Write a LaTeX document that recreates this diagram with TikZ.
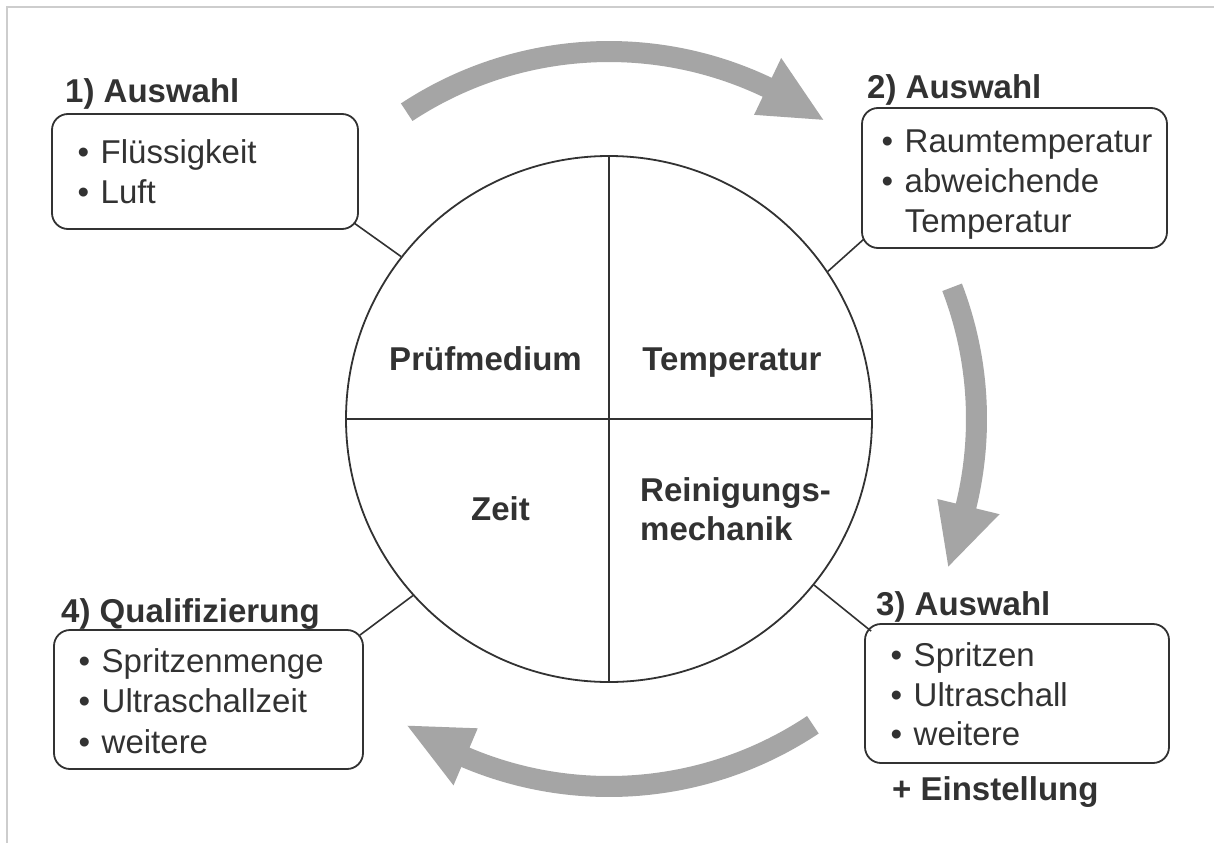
\documentclass[tikz,border=0pt]{standalone}
\usepackage{fontspec}
\setmainfont{Liberation Sans}
\usetikzlibrary{calc}
\definecolor{ink}{RGB}{50,50,50}
\definecolor{arrowgray}{RGB}{165,165,165}
\definecolor{framegray}{RGB}{205,205,205}
\newcommand{\bul}{•\hspace{11.5pt}}
\begin{document}
\begin{tikzpicture}[x=1pt,y=-1pt,
  box/.style={draw=ink, line width=1.8pt, rounded corners=16pt, inner sep=0pt},
  titletext/.style={anchor=base west, inner sep=0pt, text=ink, font=\fontsize{33}{38}\selectfont\bfseries},
  itemtext/.style={anchor=base west, inner sep=0pt, text=ink, font=\fontsize{33}{38}\selectfont},
  seglabel/.style={inner sep=0pt, text=ink, font=\fontsize{33}{38}\selectfont\bfseries},
  link/.style={draw=ink, line width=1.6pt},
  flow/.style={fill=arrowgray}]
\useasboundingbox (0,0) rectangle (1214,843);
\fill[white] (0,0) rectangle (1214,843);
\draw[framegray, line width=2pt] (1214,7) -- (7,7) -- (7,843);

% central circle
\node[circle, draw=ink, line width=1.8pt, minimum size=526pt, inner sep=0pt] (circ) at (609,419) {};
\draw[link, line width=1.8pt] (circ.north) -- (circ.south);
\draw[link, line width=1.8pt] (circ.west) -- (circ.east);
\node[seglabel, anchor=base] (lpm) at (485.5,370) {Prüfmedium};
\node[seglabel, anchor=base] (ltemp) at (732,370) {Temperatur};
\node[seglabel, anchor=base] (lzeit) at (500.5,520) {Zeit};
\node[seglabel, anchor=base west] (lrein) at (640,501) {Reinigungs-};
\node[seglabel, anchor=base west] (lmech) at (640,540) {mechanik};

% boxes
\node[box, minimum width=306pt, minimum height=115pt] (b1) at (205,171.5) {};
\node[box, minimum width=305pt, minimum height=140pt] (b2) at (1014.5,178) {};
\node[box, minimum width=304pt, minimum height=139pt] (b3) at (1017,693.5) {};
\node[box, minimum width=309pt, minimum height=139pt] (b4) at (208.5,699.5) {};

% titles
\node[titletext] (t1) at (65,102) {1) Auswahl};
\node[titletext] (t2) at (867,98) {2) Auswahl};
\node[titletext] (t3) at (876,615) {3) Auswahl};
\node[titletext] (t4) at (61,622) {4) Qualifizierung};
\node[titletext] (t5) at (892,800) {+ Einstellung};

% items
\node[itemtext] (i11) at (77.5,163) {\bul Flüssigkeit};
\node[itemtext] (i12) at (77.5,203) {\bul Luft};
\node[itemtext] (i21) at (881.5,152) {\bul Raumtemperatur};
\node[itemtext] (i22) at (881.5,192) {\bul abweichende};
\node[itemtext] (i23) at (881.5,232) {\phantom{\bul}Temperatur};
\node[itemtext] (i31) at (890.5,666) {\bul Spritzen};
\node[itemtext] (i32) at (890.5,706) {\bul Ultraschall};
\node[itemtext] (i33) at (890.5,745) {\bul weitere};
\node[itemtext] (i41) at (78.5,672) {\bul Spritzenmenge};
\node[itemtext] (i42) at (78.5,712) {\bul Ultraschallzeit};
\node[itemtext] (i43) at (78.5,753) {\bul weitere};

% connectors
\coordinate (c1) at ($(b1.south east)+(-5,-7)$);
\coordinate (c2) at ($(b2.south west)+(3,-10)$);
\coordinate (c3) at ($(b3.north west)+(7,8)$);
\coordinate (c4) at ($(b4.north east)+(-4,6)$);
\draw[link] (c1) -- (circ.142);
\draw[link] (c2) -- (circ.34.8);
\draw[link] (c3) -- (circ.-39);
\draw[link] (c4) -- (circ.-138);

% curved gray arrows
\begin{scope}[shift={(609,419)}, yscale=-1]
\fill[flow] (123.4:357) arc[start angle=123.4, end angle=64.5, radius=357]
  -- (64.5:337) -- (54.4:368) -- (64.5:400) -- (64.5:378)
  arc[start angle=64.5, end angle=123.4, radius=378] -- cycle;
\fill[flow] (21:357) arc[start angle=21, end angle=-13.7, radius=357]
  -- (-13.7:338) -- (-23.5:370) -- (-13.7:402) -- (-13.7:378)
  arc[start angle=-13.7, end angle=21, radius=378] -- cycle;
\fill[flow] (-56.3:357) arc[start angle=-56.3, end angle=-113, radius=357]
  -- (-113:336) -- (-123.3:367) -- (-113:398) -- (-113:378)
  arc[start angle=-113, end angle=-56.3, radius=378] -- cycle;
\end{scope}
\end{tikzpicture}
\end{document}
